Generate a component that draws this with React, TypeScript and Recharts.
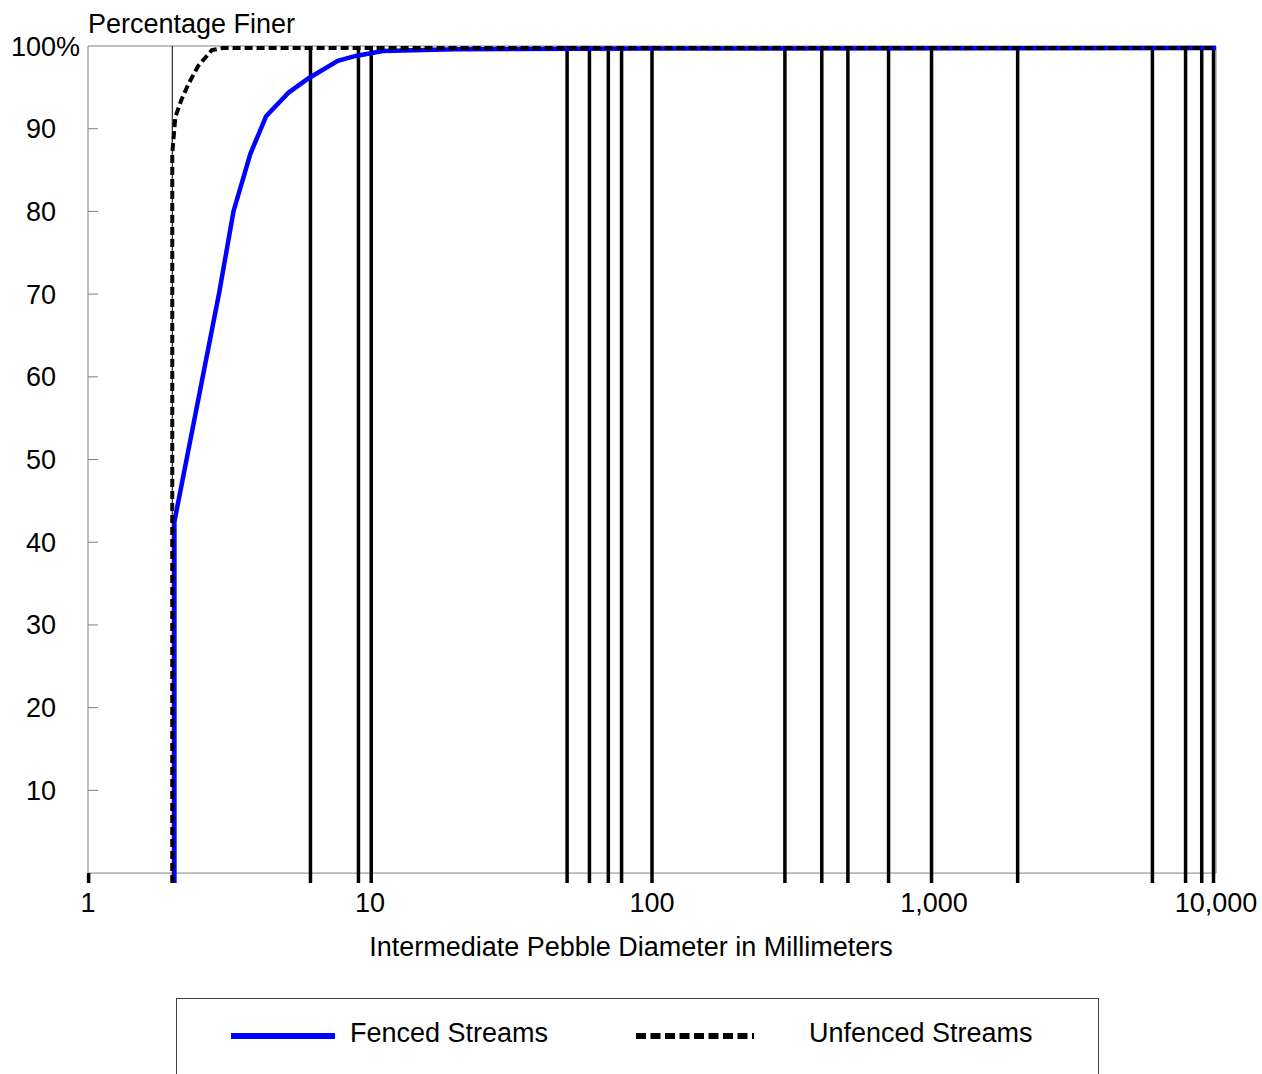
import React from 'react';
import { LineChart, Line, XAxis, YAxis, ReferenceArea } from 'recharts';

// Tick values
const X_TICKS = [1, 10, 100, 1000, 10000];
const Y_TICKS = [10, 20, 30, 40, 50, 60, 70, 80, 90, 100];

// Fenced streams (blue solid)
const FENCED_DIAMETER = [2.025, 2.025, 2.92, 3.28, 3.76, 4.28, 5.16, 6.06, 7.69, 8.9, 11.1, 20, 100, 10000];
const FENCED_PERCENT = [-1.2, 42.5, 70.2, 80, 86.9, 91.5, 94.4, 96.1, 98.2, 98.8, 99.4, 99.6, 99.7, 99.75];

// Unfenced streams (black dashed)
const UNFENCED_DIAMETER = [1.99, 1.99, 2.04, 2.15, 2.27, 2.46, 2.75, 3, 10000];
const UNFENCED_PERCENT = [-1.2, 87, 91.4, 93.6, 95.4, 97.6, 99.5, 99.75, 99.75];

// Heavy vertical size-class lines
const SIZE_LINES = [6.15, 9.1, 10.1, 50, 60, 70, 78, 100, 296, 400, 495, 690, 980, 1980, 5950, 7800, 8900, 9800];
const LINE_BOTTOM = -1.2;
const LINE_TOP = 100;

// 2 mm divide (thin line) and the short mark under the origin
const SAND_LIMIT = 1.99;
const ORIGIN_MARK = 1.005;

const FONT = '"Liberation Sans", Arial, sans-serif';
const PLOT_TOP = 46;
const PLOT_HEIGHT = 837;
const PLOT_BOTTOM = PLOT_TOP + PLOT_HEIGHT;

const fencedData = FENCED_DIAMETER.map((x, i) => ({ x, y: FENCED_PERCENT[i] }));
const unfencedData = UNFENCED_DIAMETER.map((x, i) => ({ x, y: UNFENCED_PERCENT[i] }));
const sizeLineData = SIZE_LINES.flatMap(x => [
    { x, y: LINE_BOTTOM },
    { x, y: LINE_TOP },
    { x, y: null },
]);
const sandData = [{ x: SAND_LIMIT, y: LINE_BOTTOM }, { x: SAND_LIMIT, y: LINE_TOP }];
const originData = [{ x: ORIGIN_MARK, y: LINE_BOTTOM }, { x: ORIGIN_MARK, y: 0 }];

const YTick = (props: any) => {
    const { y, payload } = props;
    const v = payload.value;
    return (
        <g>
            {v !== 100 && <line x1={88} x2={98} y1={y} y2={y} stroke="#808080" strokeWidth={1} />}
            <text x={56} y={y} dy={9.5} textAnchor="end" fontSize={27} fontFamily={FONT} fill="#000">
                {v}
            </text>
            {v === 100 && (
                <text x={56} y={y} dy={9.5} textAnchor="start" fontSize={27} fontFamily={FONT} fill="#000">
                    %
                </text>
            )}
        </g>
    );
};

const XTick = (props: any) => {
    const { x, payload } = props;
    return (
        <text x={x} y={PLOT_BOTTOM + 29} textAnchor="middle" fontSize={27} fontFamily={FONT} fill="#000">
            {Number(payload.value).toLocaleString('en-US')}
        </text>
    );
};

const XTitle = () => (
    <text x={631} y={956} textAnchor="middle" fontSize={27} fontFamily={FONT} fill="#000">
        Intermediate Pebble Diameter in Millimeters
    </text>
);

const YTitle = () => (
    <text x={88} y={33} textAnchor="start" fontSize={27} fontFamily={FONT} fill="#000">
        Percentage Finer
    </text>
);

export default function App() {
    return (
        <div style={{ position: 'absolute', left: 0, top: 0, width: 1262, height: 1074, background: '#fff', overflow: 'hidden', fontFamily: FONT }}>
            <LineChart width={1262} height={1000} margin={{ top: PLOT_TOP, right: 46, left: 0, bottom: 0 }}>
                <XAxis
                    dataKey="x"
                    type="number"
                    scale="log"
                    domain={[1, 10000]}
                    ticks={X_TICKS}
                    axisLine={false}
                    tickLine={false}
                    tick={<XTick />}
                    height={1000 - PLOT_BOTTOM}
                    label={<XTitle />}
                />
                <YAxis
                    dataKey="y"
                    type="number"
                    domain={[LINE_BOTTOM, 100]}
                    ticks={Y_TICKS}
                    axisLine={false}
                    tickLine={false}
                    tick={<YTick />}
                    width={88}
                    label={<YTitle />}
                />
                <ReferenceArea x1={1} x2={10000} y1={0} y2={100} fill="none" stroke="#808080" strokeWidth={1} />
                <Line data={sandData} dataKey="y" stroke="#000" strokeWidth={1} dot={false} isAnimationActive={false} legendType="none" />
                <Line data={originData} dataKey="y" stroke="#000" strokeWidth={3.5} dot={false} isAnimationActive={false} legendType="none" />
                <Line data={sizeLineData} dataKey="y" stroke="#000" strokeWidth={3.5} dot={false} connectNulls={false} isAnimationActive={false} legendType="none" />
                <Line data={fencedData} dataKey="y" name="Fenced Streams" stroke="#0000FF" strokeWidth={4.5} dot={false} isAnimationActive={false} />
                <Line data={unfencedData} dataKey="y" name="Unfenced Streams" stroke="#000" strokeWidth={4} strokeDasharray="8 4" dot={false} isAnimationActive={false} />
            </LineChart>

            {/* Legend box, cut by the bottom of the picture */}
            <div style={{ position: 'absolute', left: 176, top: 998, width: 923, height: 110, border: '1px solid #404040', boxSizing: 'border-box' }}>
                <svg style={{ position: 'absolute', left: 54, top: 33 }} width={104} height={8}>
                    <line x1={0} x2={104} y1={4} y2={4} stroke="#0000FF" strokeWidth={6} />
                </svg>
                <div style={{ position: 'absolute', left: 173, top: 18, fontSize: 27, lineHeight: '32px', color: '#000', whiteSpace: 'nowrap' }}>
                    Fenced Streams
                </div>
                <svg style={{ position: 'absolute', left: 459, top: 33 }} width={118} height={8}>
                    <line x1={0} x2={118} y1={4} y2={4} stroke="#000" strokeWidth={6} strokeDasharray="10 4.5" />
                </svg>
                <div style={{ position: 'absolute', left: 632, top: 18, fontSize: 27, lineHeight: '32px', color: '#000', whiteSpace: 'nowrap' }}>
                    Unfenced Streams
                </div>
            </div>
        </div>
    );
}
